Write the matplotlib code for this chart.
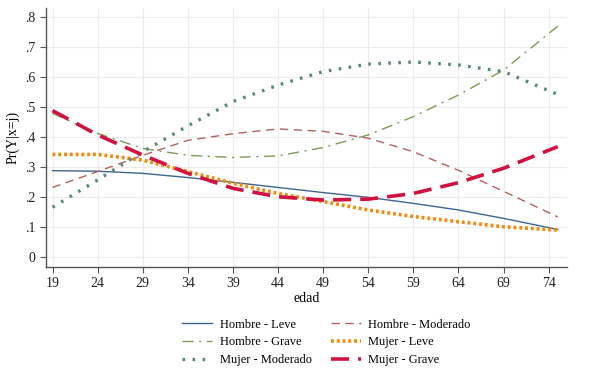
import matplotlib
matplotlib.use("Agg")
import matplotlib.pyplot as plt

edad = [19, 24, 29, 34, 39, 44, 49, 54, 59, 64, 69, 75]

hombre_leve = [0.289, 0.287, 0.280, 0.266, 0.250, 0.233, 0.216, 0.200, 0.180, 0.158, 0.130, 0.093]
hombre_moderado = [0.233, 0.286, 0.340, 0.390, 0.412, 0.428, 0.420, 0.397, 0.352, 0.290, 0.220, 0.135]
hombre_grave = [0.480, 0.413, 0.363, 0.340, 0.333, 0.338, 0.366, 0.408, 0.469, 0.541, 0.624, 0.770]
mujer_moderado = [0.167, 0.258, 0.352, 0.438, 0.519, 0.574, 0.619, 0.644, 0.651, 0.641, 0.619, 0.543]
mujer_leve = [0.343, 0.343, 0.324, 0.286, 0.247, 0.213, 0.186, 0.158, 0.136, 0.119, 0.102, 0.091]
mujer_grave = [0.489, 0.408, 0.341, 0.280, 0.230, 0.202, 0.191, 0.194, 0.213, 0.249, 0.297, 0.369]

xticks = list(range(19, 75, 5))
yticks = [0, 0.1, 0.2, 0.3, 0.4, 0.5, 0.6, 0.7, 0.8]
ylabels = ["0", ".1", ".2", ".3", ".4", ".5", ".6", ".7", ".8"]

plt.rcParams["font.family"] = ["Liberation Serif", "DejaVu Serif"]

fig = plt.figure(figsize=(6.16, 3.75), dpi=100)
ax = fig.add_axes([0.075, 0.288, 0.845, 0.69])

ax.plot(edad, hombre_leve, color="#3d6590", lw=1.0, label="Hombre - Leve")
ax.plot(edad, hombre_moderado, color="#b0625e", lw=1.0, ls=(0, (6, 4)), label="Hombre - Moderado")
ax.plot(edad, hombre_grave, color="#7d9a52", lw=1.0, ls=(0, (8, 4, 1.5, 4)), label="Hombre - Grave")
ax.plot(edad, mujer_leve, color="#f28a0c", lw=2.6, ls=(0, (0.8, 0.8)), label="Mujer - Leve")
ax.plot(edad, mujer_moderado, color="#5b8a7c", lw=2.4, ls=(0, (0.8, 2.2)), label="Mujer - Moderado")
ax.plot(edad, mujer_grave, color="#d11240", lw=2.6, ls=(0, (5, 2.5)), label="Mujer - Grave")

ax.set_xlim(18.3, 76)
ax.set_ylim(-0.032, 0.83)
ax.set_xticks(xticks)
ax.set_yticks(yticks)
ax.set_yticklabels(ylabels)
ax.grid(True, color="#ececec", lw=0.8)
ax.set_axisbelow(True)
for s in ["top", "right"]:
    ax.spines[s].set_visible(False)
for s in ["left", "bottom"]:
    ax.spines[s].set_color("#555555")
    ax.spines[s].set_linewidth(1.0)
ax.tick_params(direction="out", length=4, color="#555555", labelsize=10, colors="#222222")
ax.set_xlabel("edad", fontsize=10, labelpad=1)
ax.set_ylabel("Pr(Y|x=j)", fontsize=10, labelpad=4)

handles, labels = ax.get_legend_handles_labels()
# legend rows: Hombre-Leve / Hombre-Moderado, Hombre-Grave / Mujer-Leve, Mujer-Moderado / Mujer-Grave
order = [0, 2, 4, 1, 3, 5]
fig.legend([handles[i] for i in order], [labels[i] for i in order], ncol=2, frameon=False,
           loc="upper center", bbox_to_anchor=(0.53, 0.18), fontsize=9,
           handlelength=2.4, handletextpad=0.6, columnspacing=1.5, labelspacing=0.45)

fig.savefig("out.png", dpi=100)
